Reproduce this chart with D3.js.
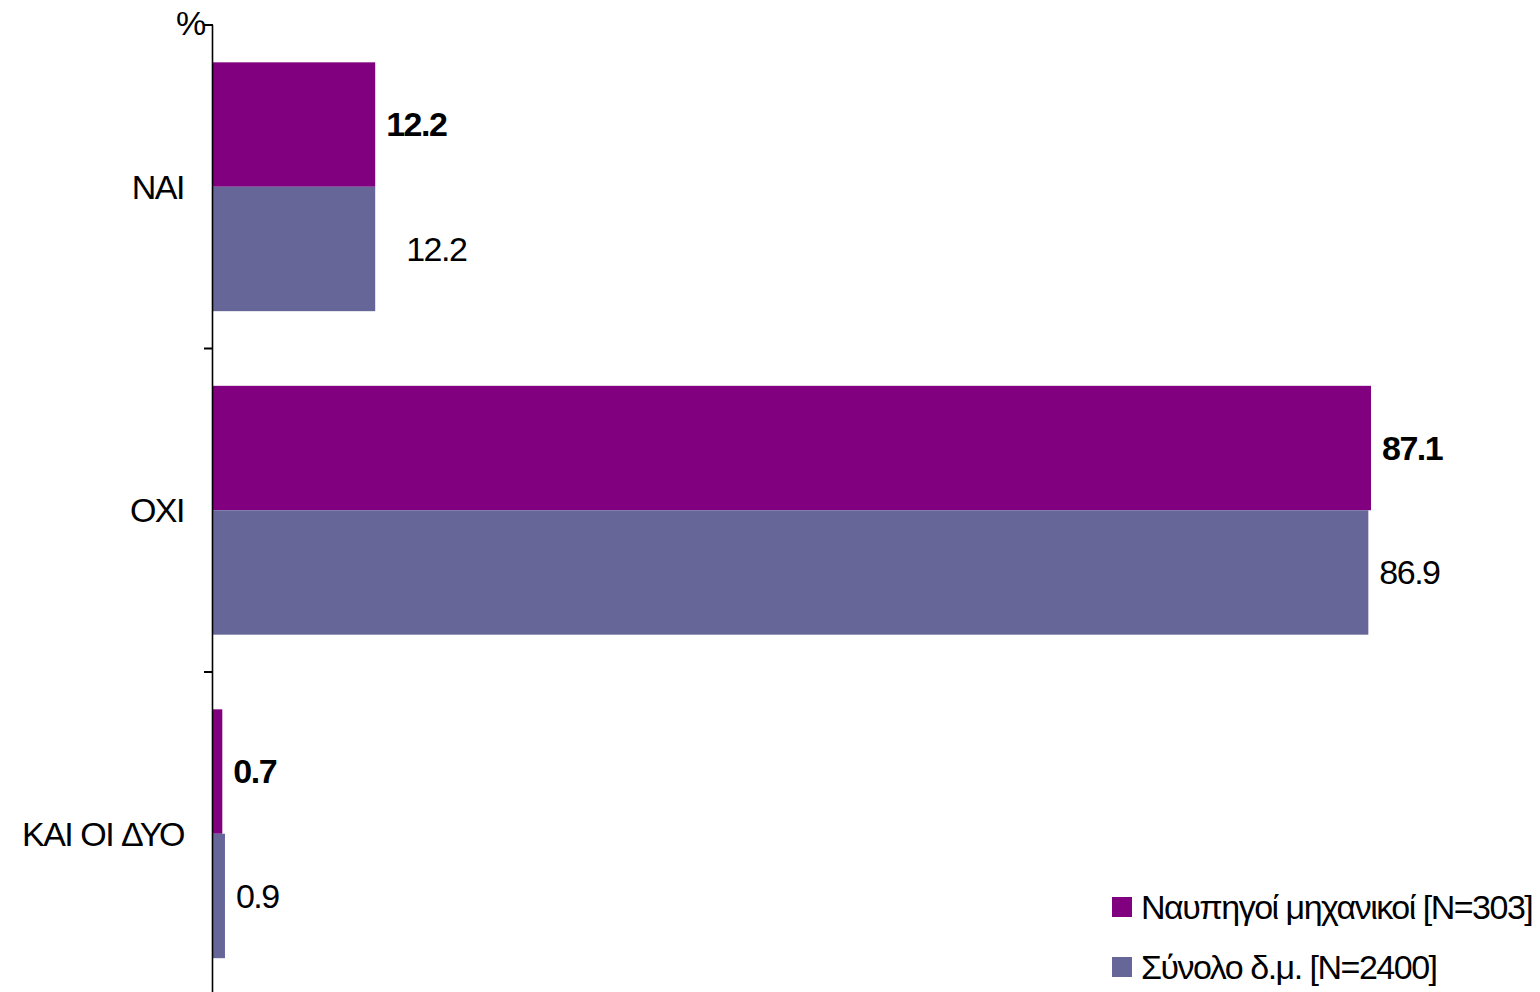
<!DOCTYPE html>
<html><head><meta charset="utf-8">
<script src="https://cdn.jsdelivr.net/npm/d3@7"></script>
<style>
html,body{margin:0;padding:0;background:#fff;}
text{font-family:"Liberation Sans",Arial,sans-serif;fill:#000;}
</style></head>
<body>
<svg id="chart" width="1540" height="992"></svg>
<script>
const categories = ["NAI", "OXI", "KAI OI ΔΥΟ"];
const seriesNames = ["Ναυπηγοί μηχανικοί [N=303]", "Σύνολο δ.μ. [N=2400]"];
const seriesNaval = [12.2, 87.1, 0.7];
const seriesTotal = [12.2, 86.9, 0.9];
const colors = ["#800080", "#666699"];

const svg = d3.select("#chart");
const x = d3.scaleLinear().domain([0, 100]).range([213, 213 + 1329.5]);
const y = d3.scaleBand().domain(categories).range([25, 25 + 3 * 323.5]).padding(0);
const sub = d3.scaleBand().domain([0, 1]).range([0, y.bandwidth()]).paddingInner(0).paddingOuter(0.3);

const series = [seriesNaval, seriesTotal];
const fs = 34, ls = "-1.5px";

series.forEach((vals, si) => {
  const g = svg.append("g");
  g.selectAll("rect").data(categories).join("rect")
    .attr("x", x(0))
    .attr("y", c => y(c) + sub(si))
    .attr("width", (c, i) => x(vals[i]) - x(0))
    .attr("height", sub.bandwidth())
    .attr("fill", colors[si]);
  g.selectAll("text").data(categories).join("text")
    .attr("x", (c, i) => x(vals[i]) + (si === 1 && i === 0 ? 31 : 11))
    .attr("y", c => y(c) + sub(si) + sub.bandwidth() / 2)
    .attr("dy", "0.35em")
    .attr("font-size", fs)
    .attr("letter-spacing", ls)
    .attr("font-weight", si === 0 ? "bold" : "normal")
    .text((c, i) => vals[i].toFixed(1));
});

// axis
const ax = svg.append("g");
ax.append("line").attr("x1", 212.5).attr("x2", 212.5).attr("y1", 25).attr("y2", 992)
  .attr("stroke", "#000").attr("stroke-width", 1.6);
const tickYs = categories.map(c => y(c)).concat([y.range()[1]]);
ax.selectAll("line.tick").data(tickYs).join("line").attr("class", "tick")
  .attr("x1", 204).attr("x2", 213).attr("y1", d => d).attr("y2", d => d)
  .attr("stroke", "#000").attr("stroke-width", 2);
ax.selectAll("text.cat").data(categories).join("text").attr("class", "cat")
  .attr("x", 184).attr("y", c => y(c) + y.bandwidth() / 2)
  .attr("dy", "0.35em").attr("text-anchor", "end")
  .attr("font-size", fs).attr("letter-spacing", ls)
  .text(c => c);
svg.append("text").attr("x", 176).attr("y", 35).attr("font-size", fs).attr("letter-spacing", ls).text("%");

// legend
const lg = svg.append("g");
seriesNames.forEach((n, i) => {
  const yy = 907 + i * 60;
  lg.append("rect").attr("x", 1112).attr("y", yy - 10).attr("width", 20).attr("height", 20).attr("fill", colors[i]);
  lg.append("text").attr("x", 1141).attr("y", yy).attr("dy", "0.35em")
    .attr("font-size", fs).attr("letter-spacing", ls).text(n);
});
</script>
</body></html>
